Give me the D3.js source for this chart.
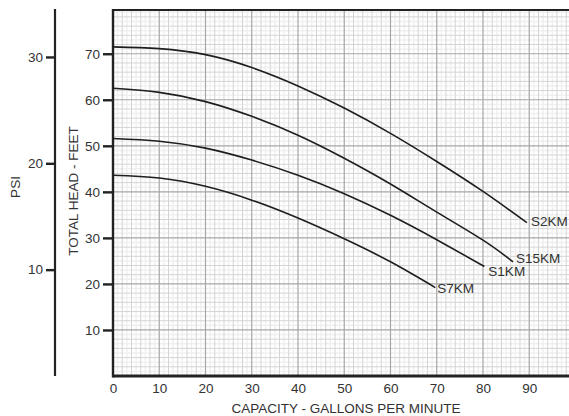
<!DOCTYPE html>
<html>
<head>
<meta charset="utf-8">
<script src="https://cdn.jsdelivr.net/npm/d3@7"></script>
<style>
  body { margin: 0; background: #fff; }
  text { font-family: "Liberation Sans", Arial, sans-serif; }
</style>
</head>
<body>
<div id="wrapper"></div>
<script>
// data (gpm vs total head in feet)
const seriesNames = ["S2KM", "S15KM", "S1KM", "S7KM"];
const gpmS2KM  = [0, 10, 20, 30, 40, 50, 60, 70, 80, 89.5];
const headS2KM = [71.5, 71.1, 69.8, 67.0, 63.0, 58.2, 52.7, 46.6, 40.1, 33.3];
const gpmS15KM  = [0, 10, 20, 30, 40, 50, 60, 70, 80, 86.5];
const headS15KM = [62.5, 61.6, 59.6, 56.4, 52.3, 47.3, 41.7, 35.6, 29.5, 24.8];
const gpmS1KM  = [0, 10, 20, 30, 40, 50, 60, 70, 80.3];
const headS1KM = [51.6, 51.0, 49.5, 46.9, 43.6, 39.6, 34.9, 29.6, 23.8];
const gpmS7KM  = [0, 10, 20, 30, 40, 50, 60, 69.7];
const headS7KM = [43.6, 43.0, 41.2, 38.2, 34.3, 29.8, 24.8, 19.2];

const xTicks = [0, 10, 20, 30, 40, 50, 60, 70, 80, 90];
const feetTicks = [10, 20, 30, 40, 50, 60, 70];
const psiTicks = [10, 20, 30];
const FEET_PER_PSI = 2.31;

// label nudges (px) from the end of each curve
const labelDx = [4, 3, 4, 2];
const labelDy = [3, 1.5, 9.5, 5.5];

const series = [
  {name: seriesNames[0], gpm: gpmS2KM, head: headS2KM},
  {name: seriesNames[1], gpm: gpmS15KM, head: headS15KM},
  {name: seriesNames[2], gpm: gpmS1KM, head: headS1KM},
  {name: seriesNames[3], gpm: gpmS7KM, head: headS7KM},
];

const width = 569, height = 416;
const plot = {left: 113, right: 569, top: 10, bottom: 376};

const svg = d3.select("#wrapper").append("svg")
  .attr("width", width).attr("height", height);

// scales
const xScale = d3.scaleLinear().domain([0, 98.6]).range([plot.left, plot.right]);
const yScale = d3.scaleLinear().domain([0, 79.5]).range([plot.bottom, plot.top]);
const psiScale = d3.scaleLinear().domain([0, 79.5 / FEET_PER_PSI]).range([plot.bottom, plot.top]);

// grid
const grid = svg.append("g");
const allX = d3.range(1, 99, 1), allY = d3.range(1, 80, 1);
function vLines(vals, color, w) {
  grid.append("g").selectAll("line").data(vals).join("line")
    .attr("x1", d => xScale(d)).attr("x2", d => xScale(d))
    .attr("y1", plot.top).attr("y2", plot.bottom)
    .attr("stroke", color).attr("stroke-width", w);
}
function hLines(vals, color, w) {
  grid.append("g").selectAll("line").data(vals).join("line")
    .attr("y1", d => yScale(d)).attr("y2", d => yScale(d))
    .attr("x1", plot.left).attr("x2", plot.right)
    .attr("stroke", color).attr("stroke-width", w);
}
vLines(allX.filter(d => d % 2 !== 0), "#f0f0f0", 1.5);
hLines(allY.filter(d => d % 2 !== 0), "#f0f0f0", 1.5);
vLines(allX.filter(d => d % 2 === 0 && d % 10 !== 0), "#d4d4d4", 1);
hLines(allY.filter(d => d % 2 === 0 && d % 10 !== 0), "#d4d4d4", 1);
vLines(xTicks.filter(d => d > 0), "#a6a6a6", 1.2);
hLines(feetTicks, "#a6a6a6", 1.2);

// frame
svg.append("line").attr("x1", plot.left).attr("x2", plot.right)
  .attr("y1", plot.top).attr("y2", plot.top)
  .attr("stroke", "#222").attr("stroke-width", 2);
svg.append("line").attr("x1", plot.left).attr("x2", plot.right)
  .attr("y1", plot.bottom).attr("y2", plot.bottom)
  .attr("stroke", "#222").attr("stroke-width", 2.8);
svg.append("line").attr("x1", plot.left).attr("x2", plot.left)
  .attr("y1", plot.top - 1).attr("y2", plot.bottom + 1.4)
  .attr("stroke", "#222").attr("stroke-width", 2.4);

// curves
const line = d3.line()
  .x(d => xScale(d[0]))
  .y(d => yScale(d[1]))
  .curve(d3.curveNatural);

svg.append("g").selectAll("path").data(series).join("path")
  .attr("d", s => line(s.gpm.map((g, i) => [g, s.head[i]])))
  .attr("fill", "none").attr("stroke", "#1e1e1e").attr("stroke-width", 1.6);

svg.append("g").selectAll("text").data(series).join("text")
  .attr("x", (s, i) => xScale(s.gpm[s.gpm.length - 1]) + labelDx[i])
  .attr("y", (s, i) => yScale(s.head[s.head.length - 1]) + labelDy[i])
  .attr("font-size", 13.5).attr("fill", "#333")
  .text(s => s.name);

// feet axis
const feetAxis = svg.append("g")
  .attr("transform", `translate(${plot.left - 1},0)`)
  .call(d3.axisLeft(yScale).tickValues(feetTicks).tickSize(9).tickPadding(3));
feetAxis.select(".domain").remove();
feetAxis.selectAll(".tick line").attr("stroke", "#222").attr("stroke-width", 2.4);
feetAxis.selectAll(".tick text").attr("font-size", 13.5).attr("fill", "#333")
  .attr("font-family", "Liberation Sans, Arial, sans-serif");

// psi axis
const psiX = 55;
svg.append("line").attr("x1", psiX).attr("x2", psiX)
  .attr("y1", plot.top - 1).attr("y2", plot.bottom)
  .attr("stroke", "#222").attr("stroke-width", 2.2);
const psiAxis = svg.append("g")
  .attr("transform", `translate(${psiX},0)`)
  .call(d3.axisLeft(psiScale).tickValues(psiTicks).tickSize(9).tickPadding(3));
psiAxis.select(".domain").remove();
psiAxis.selectAll(".tick line").attr("stroke", "#222").attr("stroke-width", 2.4);
psiAxis.selectAll(".tick text").attr("font-size", 13.5).attr("fill", "#333")
  .attr("font-family", "Liberation Sans, Arial, sans-serif");

// x axis labels
const xAxis = svg.append("g")
  .attr("transform", `translate(0,${plot.bottom})`)
  .call(d3.axisBottom(xScale).tickValues(xTicks).tickSize(0).tickPadding(7));
xAxis.select(".domain").remove();
xAxis.selectAll(".tick text").attr("font-size", 13.5).attr("fill", "#333")
  .attr("font-family", "Liberation Sans, Arial, sans-serif");

// titles
svg.append("text")
  .attr("x", 346).attr("y", 413)
  .attr("text-anchor", "middle").attr("font-size", 13.5).attr("fill", "#333")
  .text("CAPACITY - GALLONS PER MINUTE");
svg.append("text")
  .attr("transform", "translate(78,191) rotate(-90)")
  .attr("text-anchor", "middle").attr("font-size", 13.5).attr("fill", "#333")
  .text("TOTAL HEAD - FEET");
svg.append("text")
  .attr("transform", "translate(20,187) rotate(-90)")
  .attr("text-anchor", "middle").attr("font-size", 13.5).attr("fill", "#333")
  .text("PSI");
</script>
</body>
</html>
